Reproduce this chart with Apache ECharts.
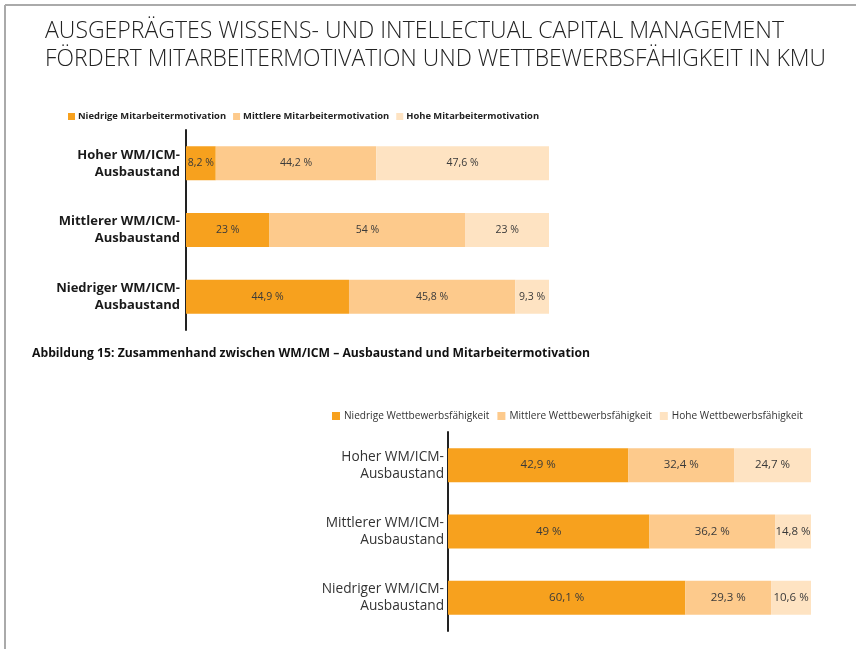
<!DOCTYPE html>
<html>
<head>
<meta charset="utf-8">
<script src="https://cdn.jsdelivr.net/npm/echarts@6/dist/echarts.min.js"></script>
<style>
  html, body { margin: 0; padding: 0; background: #fff; }
  #main { width: 856px; height: 649px; }
</style>
</head>
<body>
<div id="main"></div>
<script>
// Kategorien (beide Diagramme)
var kategorien = ['Hoher WM/ICM-\nAusbaustand', 'Mittlerer WM/ICM-\nAusbaustand', 'Niedriger WM/ICM-\nAusbaustand'];

// Diagramm 1: Mitarbeitermotivation (%)
var motivNamen = ['Niedrige Mitarbeitermotivation', 'Mittlere Mitarbeitermotivation', 'Hohe Mitarbeitermotivation'];
var motivNiedrig = [8.2, 23, 44.9];
var motivMittel = [44.2, 54, 45.8];
var motivHoch = [47.6, 23, 9.3];

// Diagramm 2: Wettbewerbsfähigkeit – Balkenlängen wie im Bild gezeichnet (%)
var wettNamen = ['Niedrige Wettbewerbsfähigkeit', 'Mittlere Wettbewerbsfähigkeit', 'Hohe Wettbewerbsfähigkeit'];
var wettNiedrig = [49.7, 55.5, 65.4];
var wettMittel = [29.1, 34.6, 23.6];
var wettHoch = [21.2, 9.9, 11.0];
// ... und die Beschriftungen, die im Bild stehen
var wettNiedrigText = ['42,9 %', '49 %', '60,1 %'];
var wettMittelText = ['32,4 %', '36,2 %', '29,3 %'];
var wettHochText = ['24,7 %', '14,8 %', '10,6 %'];

var titelZeilen = [
  'AUSGEPRÄGTES WISSENS- UND INTELLECTUAL CAPITAL MANAGEMENT',
  'FÖRDERT MITARBEITERMOTIVATION UND WETTBEWERBSFÄHIGKEIT IN KMU'
];
var unterschrift = 'Abbildung 15: Zusammenhand zwischen WM/ICM – Ausbaustand und Mitarbeitermotivation';

var farben = ['#F7A11E', '#FDCA8C', '#FEE3C2'];
var schrift = '"Open Sans", sans-serif';

function prozent(v) {
  return String(v).replace('.', ',') + ' %';
}

// Text auf eine Zielbreite stauchen (Original ist in einer schmalen Schrift gesetzt)
var messCtx = document.createElement('canvas').getContext('2d');
function stauchung(text, font, breite) {
  messCtx.font = font;
  return breite / messCtx.measureText(text).width;
}

var myChart = echarts.init(document.getElementById('main'));

function balken(name, daten, farbe, idx, texte, size) {
  return {
    name: name,
    type: 'bar',
    stack: 'g' + idx,
    xAxisIndex: idx,
    yAxisIndex: idx,
    barWidth: 34,
    data: daten,
    itemStyle: { color: farbe },
    label: {
      show: true,
      position: 'inside',
      color: '#3a3a3a',
      fontFamily: schrift,
      fontSize: size,
      formatter: function (p) {
        return texte ? texte[p.dataIndex] : prozent(p.value);
      }
    },
    emphasis: { disabled: true }
  };
}

var yAchse = function (idx, fett, size, farbe, abstand) {
  return {
    type: 'category',
    gridIndex: idx,
    inverse: true,
    data: kategorien,
    axisTick: { show: false },
    axisLine: { lineStyle: { color: '#222', width: 2 } },
    axisLabel: {
      margin: abstand,
      color: farbe,
      fontFamily: schrift,
      fontSize: size,
      fontWeight: fett ? 'bold' : 'normal',
      lineHeight: 17,
      align: 'right'
    }
  };
};

var titelFont = '300 24px ' + schrift;
var capFont = 'bold 12px ' + schrift;

var option = {
  backgroundColor: '#fff',
  animation: false,
  graphic: [
    { type: 'line', shape: { x1: 5, y1: 5, x2: 856, y2: 5 }, style: { stroke: '#aaa', lineWidth: 2 } },
    { type: 'line', shape: { x1: 5, y1: 5, x2: 5, y2: 649 }, style: { stroke: '#aaa', lineWidth: 2 } },
    { type: 'text', x: 45, y: 19, scaleX: stauchung(titelZeilen[0], titelFont, 739),
      style: { text: titelZeilen[0], fill: '#222', font: titelFont, verticalAlign: 'top' } },
    { type: 'text', x: 45, y: 47, scaleX: stauchung(titelZeilen[1], titelFont, 781),
      style: { text: titelZeilen[1], fill: '#222', font: titelFont, verticalAlign: 'top' } },
    { type: 'text', x: 32, y: 348, scaleX: stauchung(unterschrift, capFont, 558),
      style: { text: unterschrift, fill: '#111', font: capFont, verticalAlign: 'top' } }
  ],
  legend: [
    {
      data: motivNamen,
      left: 63, top: 107,
      icon: 'rect', itemWidth: 7, itemHeight: 7, itemGap: 7,
      textStyle: { fontFamily: schrift, fontSize: 9.4, fontWeight: 'bold', color: '#222', padding: [0, 0, 0, -2] },
      selectedMode: false
    },
    {
      data: wettNamen,
      left: 327, top: 406,
      icon: 'rect', itemWidth: 8, itemHeight: 8, itemGap: 8,
      textStyle: { fontFamily: schrift, fontSize: 10.1, color: '#333', padding: [0, 0, 0, -1] },
      selectedMode: false
    }
  ],
  grid: [
    { left: 186, width: 363, top: 130, height: 200 },
    { left: 448, width: 363, top: 432, height: 199 }
  ],
  xAxis: [
    { type: 'value', gridIndex: 0, min: 0, max: 100, show: false },
    { type: 'value', gridIndex: 1, min: 0, max: 100, show: false }
  ],
  yAxis: [
    yAchse(0, true, 13, '#1a1a1a', 6),
    yAchse(1, false, 13.7, '#333', 4)
  ],
  series: [
    balken(motivNamen[0], motivNiedrig, farben[0], 0, null, 10.5),
    balken(motivNamen[1], motivMittel, farben[1], 0, null, 10.5),
    balken(motivNamen[2], motivHoch, farben[2], 0, null, 10.5),
    balken(wettNamen[0], wettNiedrig, farben[0], 1, wettNiedrigText, 11.5),
    balken(wettNamen[1], wettMittel, farben[1], 1, wettMittelText, 11.5),
    balken(wettNamen[2], wettHoch, farben[2], 1, wettHochText, 11.5)
  ]
};

myChart.setOption(option);
</script>
</body>
</html>
